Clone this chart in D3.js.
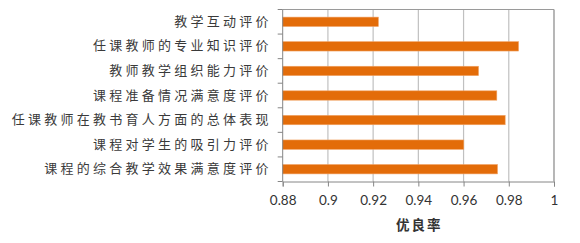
<!DOCTYPE html>
<html><head><meta charset="utf-8">
<script src="https://cdn.jsdelivr.net/npm/d3@7"></script>
<style>body{margin:0;background:#fff}svg{display:block}</style>
</head><body>
<script>
const categories = ["教学互动评价","任课教师的专业知识评价","教师教学组织能力评价","课程准备情况满意度评价","任课教师在教书育人方面的总体表现","课程对学生的吸引力评价","课程的综合教学效果满意度评价"];
const values = [0.9223, 0.9843, 0.9666, 0.9747, 0.9784, 0.9601, 0.9750];
const ticks = [0.88, 0.9, 0.92, 0.94, 0.96, 0.98, 1];
const axisTitle = "优良率";

const W = 580, H = 243;
const m = {l: 282.7, r: 26, t: 9.5, b: 61.5};
const svg = d3.select("body").append("svg").attr("width", W).attr("height", H);
const x = d3.scaleLinear().domain([0.88, 1]).range([m.l, W - m.r]);
const y = d3.scaleBand().domain(categories).range([m.t, H - m.b]).paddingInner(0.62).paddingOuter(0.31);
const yb = d3.scaleBand().domain(categories).range([m.t, H - m.b]);

// gridlines
svg.append("g").selectAll("line").data(ticks.slice(1)).join("line")
  .attr("x1", d => x(d)).attr("x2", d => x(d))
  .attr("y1", m.t).attr("y2", H - m.b)
  .attr("stroke", d => d === 1 ? "#868686" : "#c0c0c0").attr("stroke-width", 1.2);
// top border
svg.append("line").attr("x1", m.l).attr("x2", W - m.r).attr("y1", m.t).attr("y2", m.t)
  .attr("stroke", "#9a9a9a").attr("stroke-width", 1);

// bars
svg.append("g").selectAll("rect").data(values).join("rect")
  .attr("x", x(0.88)).attr("y", (d, i) => y(categories[i]))
  .attr("width", d => x(d) - x(0.88)).attr("height", y.bandwidth())
  .attr("fill", "#e36c09").attr("stroke", "#f0a060").attr("stroke-width", 0.6);

// y axis
const ya = svg.append("g").attr("transform", `translate(${m.l},0)`);
ya.append("line").attr("x1", 0).attr("x2", 0).attr("y1", m.t).attr("y2", H - m.b).attr("stroke", "#868686");
const bounds = categories.map(c => yb(c)).concat([H - m.b]);
ya.selectAll("line.t").data(bounds).join("line").attr("class", "t")
  .attr("x1", -5).attr("x2", 0).attr("y1", d => d).attr("y2", d => d).attr("stroke", "#868686");
ya.selectAll("text").data(categories).join("text")
  .attr("x", -11).attr("y", d => yb(d) + yb.bandwidth() / 2 + 0.5)
  .attr("text-anchor", "end").attr("dominant-baseline", "middle")
  .attr("font-family", "Noto Sans CJK SC").attr("font-size", 13).attr("letter-spacing", 3.25)
  .attr("fill", "#3a3a3a").text(d => d);

// x axis
const xa = svg.append("g").attr("transform", `translate(0,${H - m.b})`)
  .call(d3.axisBottom(x).tickValues(ticks).tickSize(5).tickPadding(9).tickFormat(d => d3.format("~g")(d)));
xa.select(".domain").attr("stroke", "#868686");
xa.selectAll(".tick line").attr("stroke", "#868686");
xa.selectAll(".tick text").attr("font-family", "Lato, 'Open Sans', sans-serif").attr("font-size", 13.5).attr("fill", "#333");

svg.append("text").attr("x", (x(0.88) + x(1)) / 2 + 1).attr("y", 229.5)
  .attr("text-anchor", "middle").attr("font-family", "Noto Sans CJK SC").attr("font-weight", "bold")
  .attr("font-size", 13.5).attr("letter-spacing", 2).attr("fill", "#333").text(axisTitle);
</script>
</body></html>
